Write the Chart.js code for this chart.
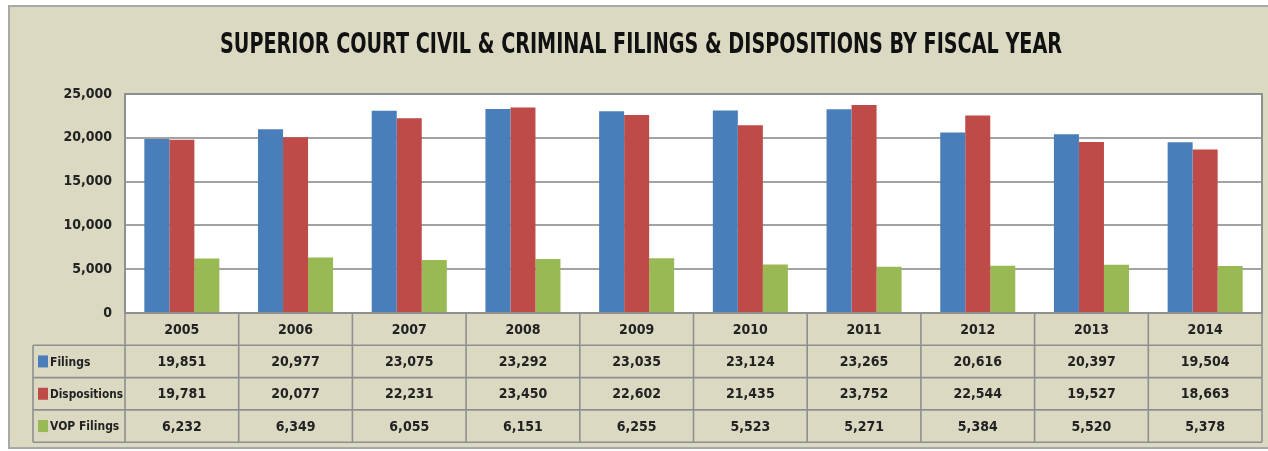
<!DOCTYPE html>
<html>
<head>
<meta charset="utf-8">
<script src="https://cdn.jsdelivr.net/npm/chart.js@4/dist/chart.umd.min.js"></script>
<style>
  html, body { margin: 0; padding: 0; background: #fff; }
  #wrap { width: 1268px; height: 451px; }
</style>
</head>
<body>
<div id="wrap"><canvas id="courtChart"></canvas></div>
<script>
const years = ["2005", "2006", "2007", "2008", "2009", "2010", "2011", "2012", "2013", "2014"];
const filings = [19851, 20977, 23075, 23292, 23035, 23124, 23265, 20616, 20397, 19504];
const dispositions = [19781, 20077, 22231, 23450, 22602, 21435, 23752, 22544, 19527, 18663];
const vopFilings = [6232, 6349, 6055, 6151, 6255, 5523, 5271, 5384, 5520, 5378];
const seriesNames = ["Filings", "Dispositions", "VOP Filings"];
const seriesColors = ["#4a7ebb", "#be4b48", "#98b954"];
const yMax = 25000;
const yStep = 5000;

const titleText = "SUPERIOR COURT CIVIL & CRIMINAL FILINGS & DISPOSITIONS BY FISCAL YEAR";
const fontFamily = "'Liberation Sans Narrow', 'DejaVu Sans Condensed', 'Open Sans', sans-serif";
const beige = "#dcd9c3";
const lineGray = "#8f8f8f";

const fmt = (v) => Number(v).toLocaleString("en-US");

// background, outer frame and white plot area
const backdrop = {
  id: "backdrop",
  beforeDraw(chart) {
    const ctx = chart.ctx;
    const ca = chart.chartArea;
    ctx.save();
    ctx.fillStyle = "#ffffff";
    ctx.fillRect(0, 0, chart.width, chart.height);
    ctx.fillStyle = beige;
    ctx.fillRect(9, 6, chart.width - 9, 442);
    ctx.strokeStyle = "#a8a8a8";
    ctx.lineWidth = 2;
    ctx.strokeRect(9, 6, chart.width + 10, 442);
    ctx.fillStyle = "#ffffff";
    ctx.fillRect(ca.left, ca.top, ca.right - ca.left, ca.bottom - ca.top);
    ctx.restore();
  },
  afterDatasetsDraw(chart) {
    const ctx = chart.ctx;
    const ca = chart.chartArea;
    ctx.save();
    ctx.strokeStyle = lineGray;
    ctx.lineWidth = 2;
    ctx.strokeRect(ca.left, ca.top, ca.right - ca.left, ca.bottom - ca.top);
    ctx.restore();
  },
};

// data table under the plot, positioned from the x scale
const dataTable = {
  id: "dataTable",
  afterDraw(chart) {
    const ctx = chart.ctx;
    const ca = chart.chartArea;
    const xs = chart.scales.x;
    const colW = xs.getPixelForValue(1) - xs.getPixelForValue(0);
    const rowH = 32.3;
    const top = ca.bottom;
    const bottom = top + rowH * 4;
    const tableLeft = 33;
    const rows = [filings, dispositions, vopFilings];

    ctx.save();
    ctx.strokeStyle = lineGray;
    ctx.lineWidth = 1.6;

    // horizontal lines
    ctx.beginPath();
    ctx.moveTo(ca.left, top + rowH);
    ctx.lineTo(ca.right, top + rowH);
    for (let r = 1; r <= 3; r++) {
      ctx.moveTo(tableLeft, top + rowH * r);
      ctx.lineTo(ca.right, top + rowH * r);
    }
    ctx.moveTo(tableLeft, bottom);
    ctx.lineTo(ca.right, bottom);
    // vertical lines
    ctx.moveTo(tableLeft, top + rowH);
    ctx.lineTo(tableLeft, bottom);
    for (let i = 0; i < years.length; i++) {
      const x = xs.getPixelForValue(i) - colW / 2;
      ctx.moveTo(x, top);
      ctx.lineTo(x, bottom);
    }
    ctx.moveTo(ca.right, top);
    ctx.lineTo(ca.right, bottom);
    ctx.stroke();

    ctx.fillStyle = "#222";
    ctx.textBaseline = "middle";
    ctx.textAlign = "center";
    ctx.font = "bold 14px " + fontFamily;
    years.forEach((y, i) => {
      ctx.fillText(y, xs.getPixelForValue(i), top + rowH / 2 + 1);
    });
    rows.forEach((vals, r) => {
      const cy = top + rowH * (r + 1.5) + 1;
      vals.forEach((v, i) => {
        ctx.fillText(fmt(v), xs.getPixelForValue(i), cy);
      });
    });

    // legend keys in the first column
    ctx.textAlign = "left";
    ctx.font = "bold 12px " + fontFamily;
    seriesNames.forEach((name, r) => {
      const cy = top + rowH * (r + 1.5);
      ctx.fillStyle = seriesColors[r];
      ctx.fillRect(38, cy - 6, 10, 12);
      ctx.fillStyle = "#222";
      ctx.fillText(name, 50, cy + 1, 73);
    });
    ctx.restore();
  },
};

const titleDraw = {
  id: "titleDraw",
  afterDraw(chart) {
    const ctx = chart.ctx;
    ctx.save();
    ctx.fillStyle = "#111";
    ctx.textAlign = "center";
    ctx.textBaseline = "middle";
    ctx.font = "bold 29px " + fontFamily;
    ctx.fillText(titleText, 641, 45, 842);
    ctx.restore();
  },
};

const ctx = document.getElementById("courtChart").getContext("2d");

new Chart(ctx, {
  type: "bar",
  data: {
    labels: years,
    datasets: [
      { label: seriesNames[0], data: filings, backgroundColor: seriesColors[0] },
      { label: seriesNames[1], data: dispositions, backgroundColor: seriesColors[1] },
      { label: seriesNames[2], data: vopFilings, backgroundColor: seriesColors[2] },
    ],
  },
  options: {
    responsive: true,
    maintainAspectRatio: false,
    animation: false,
    datasets: {
      bar: {
        categoryPercentage: 0.66,
        barPercentage: 1.0,
        borderWidth: 0,
      },
    },
    layout: {
      padding: { top: 94, bottom: 138, left: 0, right: 6 },
    },
    plugins: {
      legend: { display: false },
      title: { display: false },
      tooltip: { enabled: false },
    },
    scales: {
      x: {
        display: false,
      },
      y: {
        min: 0,
        max: yMax,
        afterFit(scale) {
          scale.width = 125;
        },
        border: { display: false },
        grid: {
          color: "#a3a3a3",
          lineWidth: 2,
          drawTicks: false,
        },
        ticks: {
          stepSize: yStep,
          padding: 13,
          color: "#222",
          font: { size: 14, weight: "bold", family: fontFamily },
          callback: (v) => fmt(v),
        },
      },
    },
  },
  plugins: [backdrop, dataTable, titleDraw],
});
</script>
</body>
</html>
